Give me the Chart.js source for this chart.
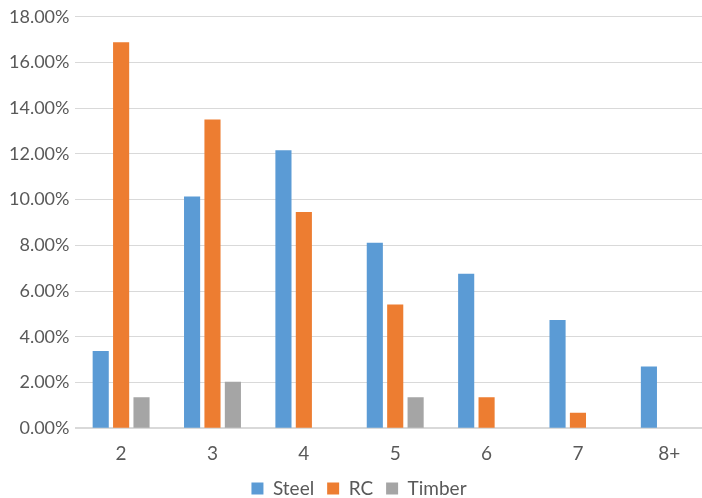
<!DOCTYPE html>
<html>
<head>
<meta charset="utf-8">
<script src="https://cdn.jsdelivr.net/npm/chart.js@4"></script>
<style>
  html, body { margin: 0; padding: 0; background: #fff; overflow: hidden; }
  #wrap { width: 716px; height: 508px; }
</style>
</head>
<body>
<div id="wrap"><canvas id="chart"></canvas></div>
<script>
const storeys = ["2", "3", "4", "5", "6", "7", "8+"];
const steel = [3.38, 10.14, 12.16, 8.11, 6.76, 4.73, 2.70];
const rc = [16.89, 13.51, 9.46, 5.41, 1.35, 0.68, 0];
const timber = [1.35, 2.03, 0, 1.35, 0, 0, 0];

const textColor = "#595959";
const fontFamily = "Lato, 'Open Sans', sans-serif";

function makeSet(label, data, color) {
  return {
    label: label,
    data: data,
    backgroundColor: color,
    borderWidth: 0,
    categoryPercentage: 0.67,
    barPercentage: 0.79
  };
}

new Chart(document.getElementById("chart"), {
  type: "bar",
  data: {
    labels: storeys,
    datasets: [
      makeSet("Steel", steel, "#5b9bd5"),
      makeSet("RC", rc, "#ed7d31"),
      makeSet("Timber", timber, "#a5a5a5")
    ]
  },
  options: {
    responsive: true,
    maintainAspectRatio: false,
    animation: false,
    layout: { padding: { left: 3, right: 1, top: 6, bottom: 0 } },
    plugins: {
      tooltip: { enabled: false },
      legend: {
        position: "bottom",
        labels: {
          color: textColor,
          font: { family: fontFamily, size: 19 },
          boxWidth: 12,
          boxHeight: 12,
          padding: 13
        }
      }
    },
    scales: {
      x: {
        // ticks hidden, tickLength only used to push the labels down
        grid: { display: false, drawTicks: true, tickLength: 13 },
        border: { color: "#d9d9d9", width: 1.5 },
        ticks: { color: textColor, font: { family: fontFamily, size: 19 }, padding: 1 }
      },
      y: {
        min: 0,
        max: 18,
        grid: { color: "#d9d9d9", lineWidth: 1, drawTicks: false },
        border: { display: false },
        ticks: {
          stepSize: 2,
          padding: 6,
          color: textColor,
          font: { family: fontFamily, size: 18 },
          callback: v => v.toFixed(2) + "%"
        }
      }
    }
  }
});
</script>
</body>
</html>
